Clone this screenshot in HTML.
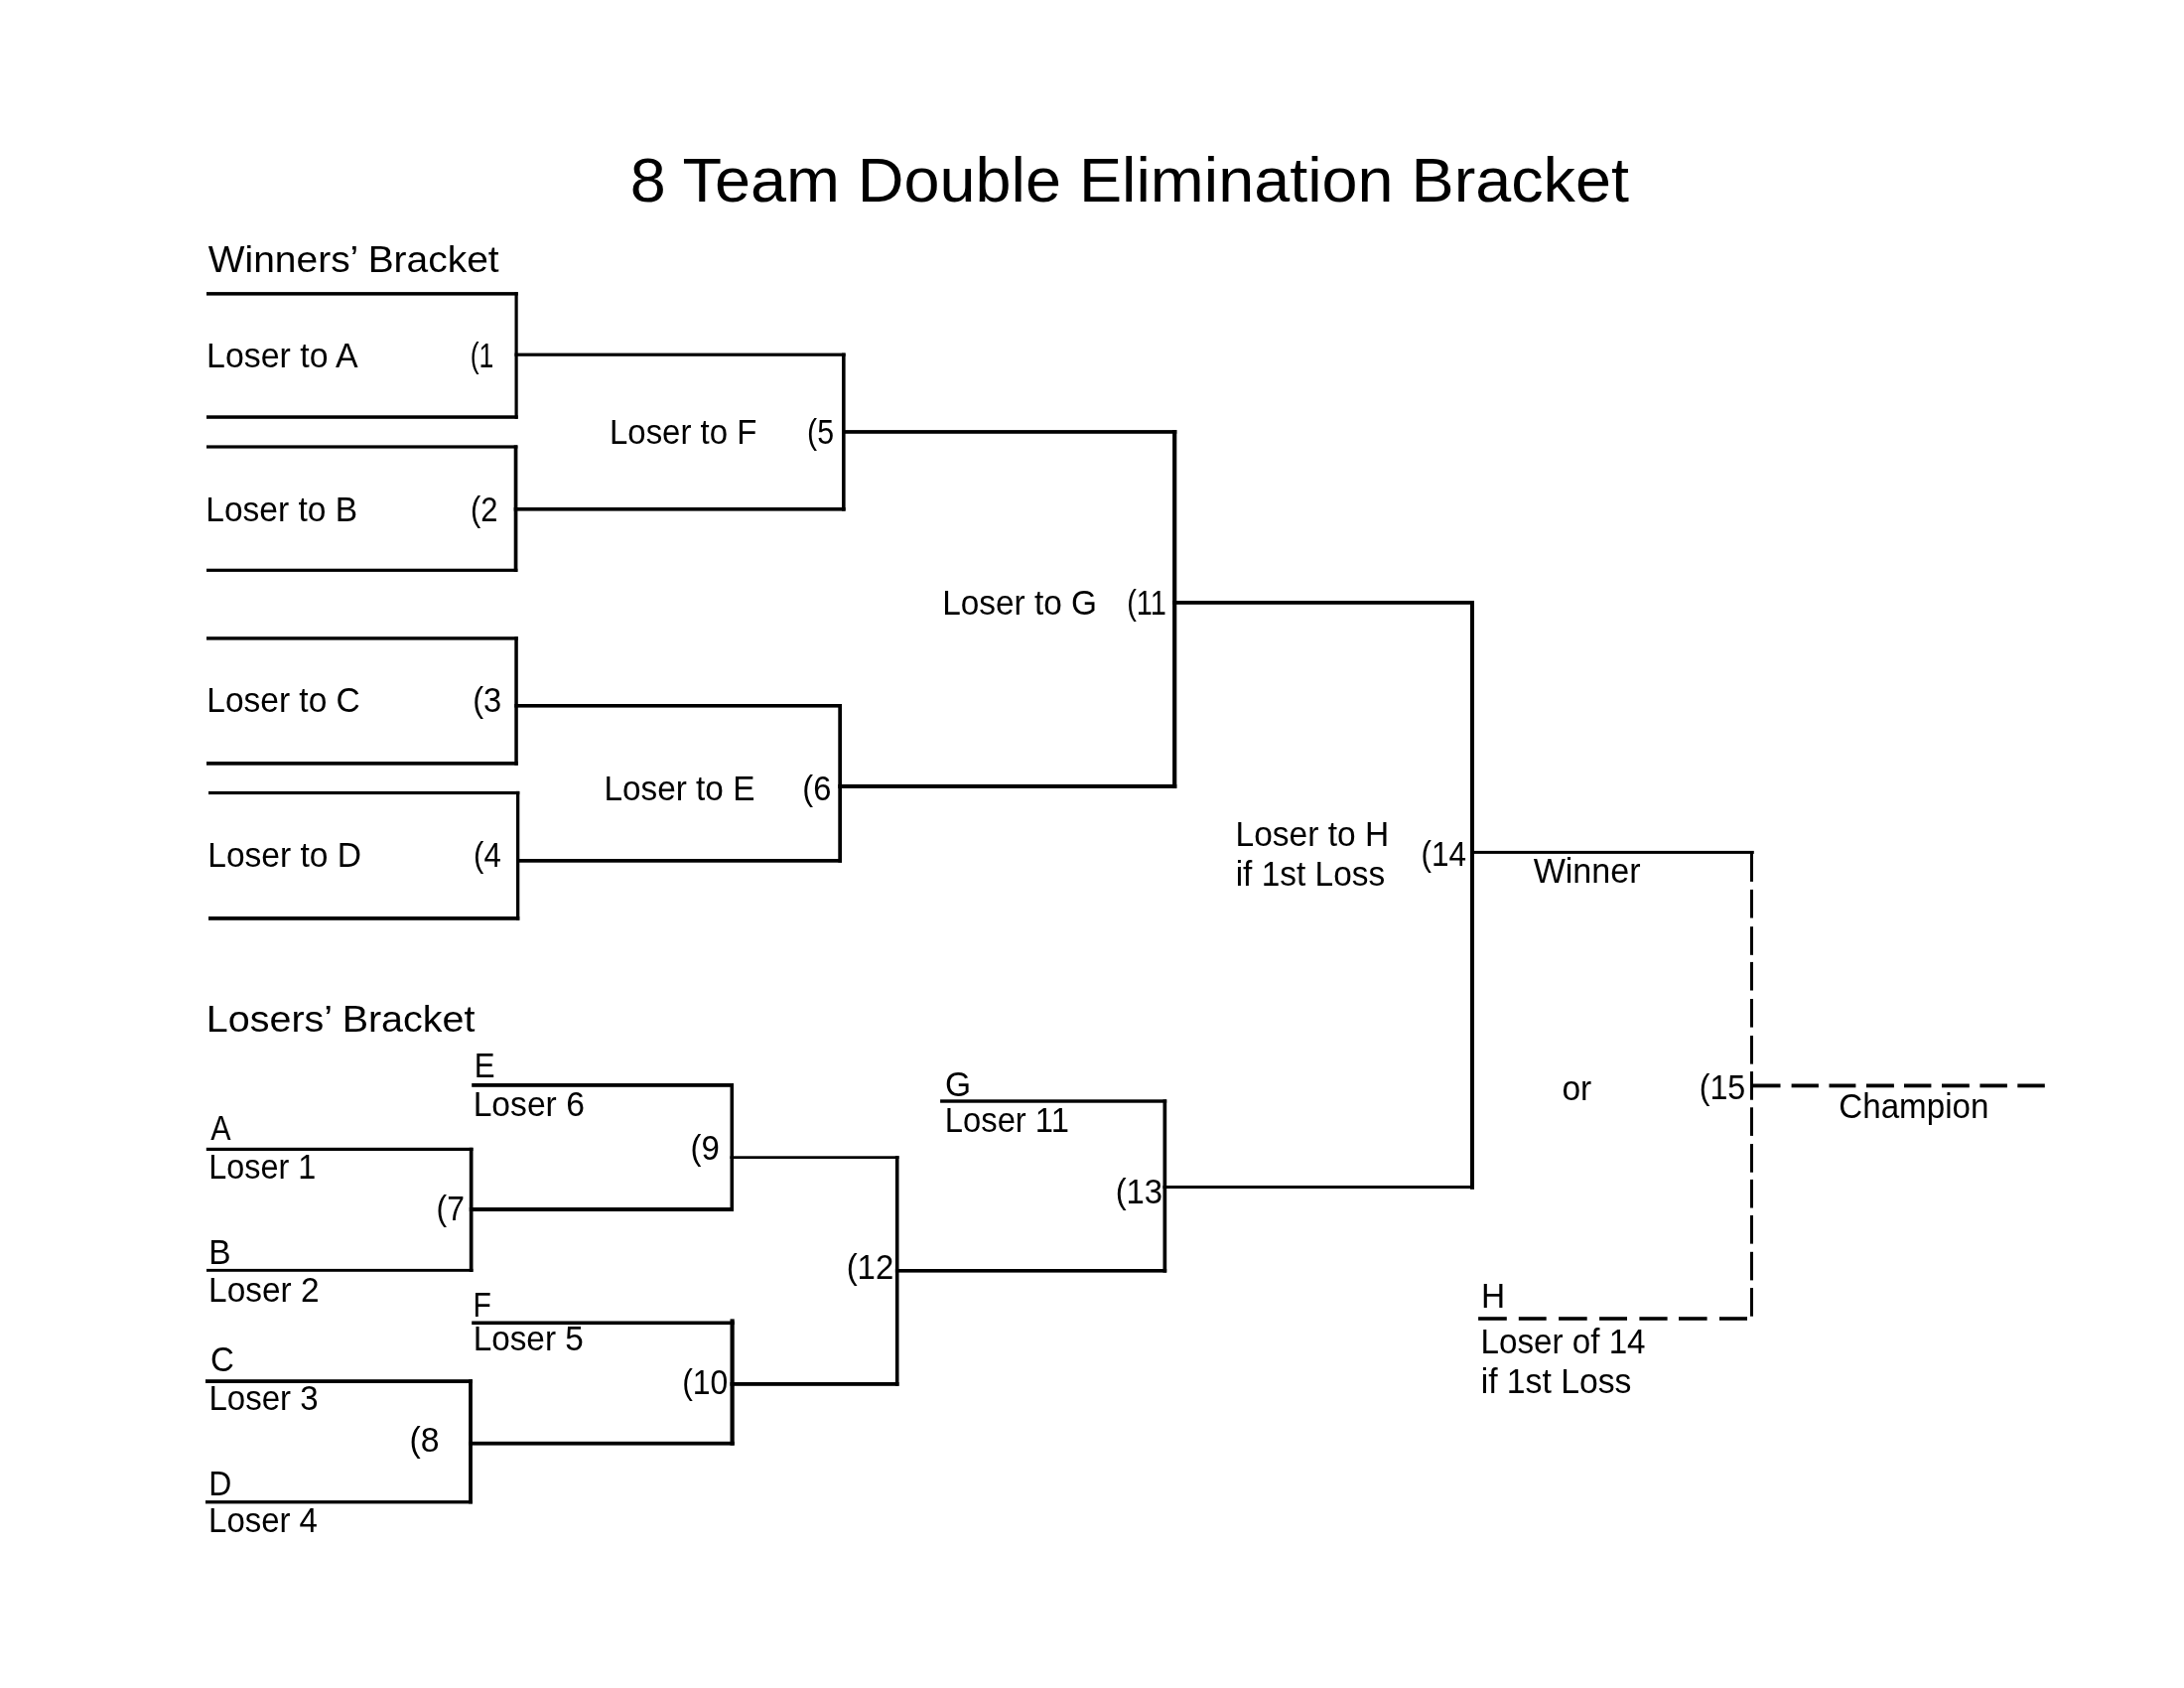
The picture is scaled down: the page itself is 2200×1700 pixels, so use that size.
<!DOCTYPE html><html><head><meta charset="utf-8"><style>html,body{margin:0;padding:0;background:#fff;width:2200px;height:1700px;overflow:hidden}svg{display:block}text{-webkit-font-smoothing:antialiased}text{font-family:"Liberation Sans",sans-serif;fill:#000}</style></head><body>
<svg width="2200" height="1700" viewBox="0 0 2200 1700"><rect width="2200" height="1700" fill="#fff"/>
<g fill="#000">
<rect x="208" y="294.1" width="313.7" height="3.5"/>
<rect x="518.5" y="294.1" width="3.2" height="127.7"/>
<rect x="208" y="418.3" width="313.7" height="3.5"/>
<rect x="518.5" y="355.6" width="333.1" height="3.2"/>
<rect x="208" y="448.4" width="313.4" height="3.2"/>
<rect x="517.7" y="448.4" width="3.7" height="127.5"/>
<rect x="208" y="572.7" width="313.4" height="3.2"/>
<rect x="517.7" y="511" width="333.9" height="3.6"/>
<rect x="848" y="355.6" width="3.6" height="159"/>
<rect x="848" y="433.1" width="337.3" height="3.7"/>
<rect x="208" y="641.2" width="313.8" height="3.4"/>
<rect x="518.3" y="641.2" width="3.5" height="129.5"/>
<rect x="208" y="767" width="313.8" height="3.7"/>
<rect x="518.3" y="709" width="329.7" height="3.6"/>
<rect x="210" y="796.9" width="313.3" height="3.2"/>
<rect x="520" y="796.9" width="3.3" height="129.9"/>
<rect x="210" y="923" width="313.3" height="3.8"/>
<rect x="520" y="865" width="328" height="3.7"/>
<rect x="844.3" y="709" width="3.7" height="159.7"/>
<rect x="844.3" y="789.9" width="341" height="4"/>
<rect x="1181.1" y="433" width="4.2" height="360.9"/>
<rect x="1181.1" y="605" width="303.9" height="3.8"/>
<rect x="1481" y="605" width="4" height="592.8"/>
<rect x="1481" y="856.9" width="285.8" height="3"/>
<rect x="207.8" y="1155.8" width="268.7" height="3.2"/>
<rect x="472.8" y="1155.8" width="3.7" height="125.2"/>
<rect x="208" y="1277.9" width="268.5" height="2.9"/>
<rect x="472.8" y="1216" width="266.2" height="4"/>
<rect x="475.2" y="1091" width="263.8" height="3.8"/>
<rect x="735.5" y="1091" width="3.5" height="129"/>
<rect x="735.5" y="1164.3" width="170" height="2.7"/>
<rect x="207" y="1389.2" width="268.9" height="3.8"/>
<rect x="472.1" y="1389.2" width="3.8" height="125.2"/>
<rect x="207" y="1511.1" width="268.9" height="3.3"/>
<rect x="472" y="1451.8" width="267.7" height="3.8"/>
<rect x="475.2" y="1330.5" width="264.5" height="3.6"/>
<rect x="735.5" y="1328.4" width="4.2" height="127.2"/>
<rect x="735.5" y="1392" width="170" height="3.8"/>
<rect x="901.9" y="1164" width="3.6" height="231.8"/>
<rect x="901.9" y="1278" width="273.3" height="3.6"/>
<rect x="947.1" y="1107.3" width="228.1" height="3.4"/>
<rect x="1171.5" y="1107.3" width="3.7" height="174.3"/>
<rect x="1171.5" y="1194" width="313.5" height="3"/>
<rect x="1763" y="857" width="3" height="30.9"/>
<rect x="1763" y="895.9" width="3" height="28.6"/>
<rect x="1763" y="933.2" width="3" height="28.6"/>
<rect x="1763" y="968.9" width="3" height="28.6"/>
<rect x="1763" y="1006" width="3" height="28.6"/>
<rect x="1763" y="1043" width="3" height="28.6"/>
<rect x="1763" y="1079.1" width="3" height="28.6"/>
<rect x="1763" y="1115.3" width="3" height="28.6"/>
<rect x="1763" y="1152.1" width="3" height="28.6"/>
<rect x="1763" y="1187.9" width="3" height="28.6"/>
<rect x="1763" y="1224" width="3" height="28.6"/>
<rect x="1763" y="1260.8" width="3" height="28.6"/>
<rect x="1763" y="1297.1" width="3" height="28.6"/>
<rect x="1764.6" y="1091.5" width="28.9" height="3.8"/>
<rect x="1804.6" y="1091.5" width="27.3" height="3.8"/>
<rect x="1842.5" y="1091.5" width="26.9" height="3.8"/>
<rect x="1880" y="1091.5" width="27.9" height="3.8"/>
<rect x="1918" y="1091.5" width="27.4" height="3.8"/>
<rect x="1956" y="1091.5" width="27.8" height="3.8"/>
<rect x="1994.4" y="1091.5" width="27.5" height="3.8"/>
<rect x="2032.3" y="1091.5" width="27.5" height="3.8"/>
<rect x="1489.1" y="1326.2" width="28.7" height="3.6"/>
<rect x="1529.8" y="1326.2" width="27.9" height="3.6"/>
<rect x="1570.1" y="1326.2" width="28.6" height="3.6"/>
<rect x="1611.1" y="1326.2" width="27.9" height="3.6"/>
<rect x="1651.4" y="1326.2" width="28.2" height="3.6"/>
<rect x="1691" y="1326.2" width="28.6" height="3.6"/>
<rect x="1732" y="1326.2" width="28" height="3.6"/>
</g>
<g style="will-change:transform">
<text font-size="63.08" transform="translate(634.72 203.2) scale(1.0263 1)">8 Team Double Elimination Bracket</text>
<text font-size="37.28" transform="translate(209.81 273.6) scale(1.0448 1)">Winners’ Bracket</text>
<text font-size="34.45" transform="translate(208.02 369.7) scale(0.9847 1)">Loser to A</text>
<text font-size="34.45" transform="translate(473.65 369.7) scale(0.7724 1)">(1</text>
<text font-size="34.45" transform="translate(207.25 525) scale(0.9733 1)">Loser to B</text>
<text font-size="34.45" transform="translate(474.08 525) scale(0.8967 1)">(2</text>
<text font-size="34.45" transform="translate(208.25 717) scale(0.9730 1)">Loser to C</text>
<text font-size="34.45" transform="translate(476.17 717) scale(0.9491 1)">(3</text>
<text font-size="34.45" transform="translate(209.25 873.1) scale(0.9746 1)">Loser to D</text>
<text font-size="34.45" transform="translate(477.07 873.1) scale(0.9022 1)">(4</text>
<text font-size="34.45" transform="translate(614 446.7) scale(0.9564 1)">Loser to F</text>
<text font-size="34.45" transform="translate(813.12 446.7) scale(0.8801 1)">(5</text>
<text font-size="34.45" transform="translate(608.47 805.5) scale(0.9679 1)">Loser to E</text>
<text font-size="34.45" transform="translate(808.37 805.5) scale(0.9491 1)">(6</text>
<text font-size="34.45" transform="translate(949.16 618.9) scale(0.9689 1)">Loser to G</text>
<text font-size="34.45" transform="translate(1135.2 618.9) scale(0.8409 1)">(11</text>
<text font-size="34.45" transform="translate(1244.55 852) scale(0.9727 1)">Loser to H</text>
<text font-size="34.45" transform="translate(1244.66 892) scale(0.9707 1)">if 1st Loss</text>
<text font-size="34.45" transform="translate(1431.55 871.8) scale(0.9133 1)">(14</text>
<text font-size="34.45" transform="translate(1544.63 889) scale(0.9895 1)">Winner</text>
<text font-size="34.45" transform="translate(1573.49 1107.8) scale(0.9723 1)">or</text>
<text font-size="34.45" transform="translate(1711.7 1107.3) scale(0.9352 1)">(15</text>
<text font-size="34.45" transform="translate(1852.31 1125.6) scale(0.9620 1)">Champion</text>
<text font-size="34.45" transform="translate(1491.96 1316.9) scale(0.9711 1)">H</text>
<text font-size="34.45" transform="translate(1491.48 1363.1) scale(0.9637 1)">Loser of 14</text>
<text font-size="34.45" transform="translate(1491.64 1402.8) scale(0.9793 1)">if 1st Loss</text>
<text font-size="37.28" transform="translate(207.86 1039.2) scale(1.0593 1)">Losers’ Bracket</text>
<text font-size="34.45" transform="translate(212.34 1147.9) scale(0.8845 1)">A</text>
<text font-size="34.45" transform="translate(210.35 1186.9) scale(0.9396 1)">Loser 1</text>
<text font-size="34.45" transform="translate(439.62 1228.8) scale(0.9266 1)">(7</text>
<text font-size="34.45" transform="translate(210.26 1272.8) scale(0.9713 1)">B</text>
<text font-size="34.45" transform="translate(210.06 1311.1) scale(0.9707 1)">Loser 2</text>
<text font-size="34.45" transform="translate(212.02 1381.3) scale(0.9585 1)">C</text>
<text font-size="34.45" transform="translate(210.39 1419.9) scale(0.9598 1)">Loser 3</text>
<text font-size="34.45" transform="translate(412.6 1461.8) scale(0.9812 1)">(8</text>
<text font-size="34.45" transform="translate(210.18 1505.5) scale(0.9268 1)">D</text>
<text font-size="34.45" transform="translate(210.1 1543.4) scale(0.9562 1)">Loser 4</text>
<text font-size="34.45" transform="translate(477.84 1084.7) scale(0.9052 1)">E</text>
<text font-size="34.45" transform="translate(476.64 1123.8) scale(0.9770 1)">Loser 6</text>
<text font-size="34.45" transform="translate(695.56 1168.2) scale(0.9565 1)">(9</text>
<text font-size="34.45" transform="translate(476.53 1326.3) scale(0.8727 1)">F</text>
<text font-size="34.45" transform="translate(476.67 1359.6) scale(0.9673 1)">Loser 5</text>
<text font-size="34.45" transform="translate(687.22 1404) scale(0.9266 1)">(10</text>
<text font-size="34.45" transform="translate(852.66 1287.7) scale(0.9560 1)">(12</text>
<text font-size="34.45" transform="translate(951.92 1103.6) scale(0.9736 1)">G</text>
<text font-size="34.45" transform="translate(951.81 1140) scale(0.9514 1)">Loser 11</text>
<text font-size="34.45" transform="translate(1123.66 1211.6) scale(0.9539 1)">(13</text>
</g></svg></body></html>
